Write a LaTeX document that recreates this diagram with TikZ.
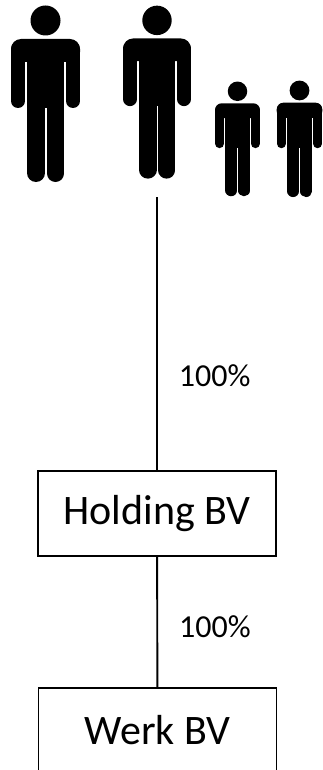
\documentclass[tikz,border=0pt]{standalone}
\usepackage{fontspec}
\setmainfont{Carlito}
\begin{document}
\begin{tikzpicture}[x=1pt,y=-1pt,
  box/.style={draw, line width=1.6pt, minimum width=238pt, minimum height=85pt, inner sep=0pt, font=\fontsize{42}{50}\selectfont},
  link/.style={line width=1.9pt},
  pct/.style={font=\fontsize{32}{38}\selectfont, anchor=west, inner sep=0pt, xshift=21pt},
  person/.pic={
    \fill (0,-18.5) circle[radius=15];
    \fill[rounded corners=10pt] (-34.5,23) -- (-34.5,0) -- (34.5,0) -- (34.5,23) -- cycle;
    \draw[line width=14pt, line cap=round] (-27.5,10) -- (-27.5,62);
    \draw[line width=14pt, line cap=round] (27.5,10) -- (27.5,62);
    \fill (-18.5,5) rectangle (18.5,69);
    \draw[line width=18pt, line cap=round] (-9.5,66) -- (-9.5,134);
    \draw[line width=17pt, line cap=round] (10,66) -- (10,134.5);
  }
]
\useasboundingbox[fill=white] (0,0) rectangle (322,770);
\begin{scope}[transform canvas={shift={(45.5,39)}}]
  \pic (p1) {person};
\end{scope}
\begin{scope}[transform canvas={shift={(157,38.5)},scale=0.98}]
  \pic (p2) {person};
\end{scope}
\begin{scope}[transform canvas={shift={(237.5,103.3)},scale=0.65}]
  \pic (p3) {person};
\end{scope}
\begin{scope}[transform canvas={shift={(299.5,102.7)},scale=0.66}]
  \pic (p4) {person};
\end{scope}
\coordinate (top) at (157,197);
\node[box] (holding) at (157,513.5) {Holding BV};
\node[box] (werk) at (157.5,730.5) {Werk BV};
\draw[link] (top) -- node[pct, pos=0.653] (l1) {100\%} (holding);
\draw[link] (holding) -- node[pct, pos=0.536] (l2) {100\%} (werk);
\end{tikzpicture}
\end{document}
